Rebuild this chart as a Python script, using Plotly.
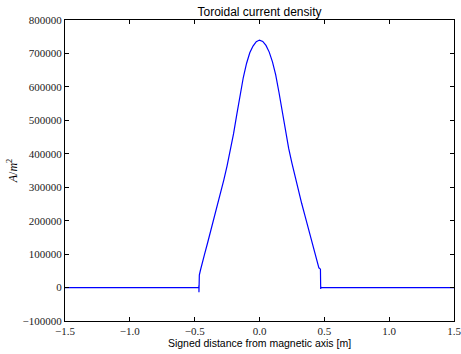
import plotly.graph_objects as go

# Signed distance from magnetic axis [m]
x_vals = [-1.5, -0.469, -0.467, -0.467, -0.466, -0.464, -0.456, -0.45, -0.425, -0.40, -0.375,
          -0.35, -0.325, -0.30, -0.275, -0.25, -0.225, -0.20, -0.175, -0.15, -0.125,
          -0.10, -0.075, -0.05, -0.025, 0.0, 0.025, 0.05, 0.075, 0.10, 0.125, 0.15,
          0.175, 0.20, 0.225, 0.25, 0.275, 0.30, 0.325, 0.35, 0.375, 0.40, 0.425,
          0.45, 0.458, 0.470, 0.472, 0.474, 0.478, 1.5]
# Toroidal current density [A/m^2]
j_vals = [0, 0, 5000, -14000, 0, 37000, 51000, 62000, 98000, 134000, 170000,
          206000, 244000, 282000, 322000, 364000, 410000, 460000, 518000, 574000, 628000,
          670000, 702000, 722000, 735000, 740000, 736000, 724000, 704000, 675000, 636000, 584000,
          528000, 468000, 416000, 372000, 330000, 290000, 252000, 216000, 180000, 144000, 108000,
          74000, 59000, 55000, -4000, 1000, 0, 0]

x_ticks = [-1.5, -1.0, -0.5, 0.0, 0.5, 1.0, 1.5]
x_tick_text = ["\u22121.5", "\u22121.0", "\u22120.5", "0.0", "0.5", "1.0", "1.5"]
y_ticks = [-100000, 0, 100000, 200000, 300000, 400000, 500000, 600000, 700000, 800000]
y_tick_text = ["\u2212100000", "0", "100000", "200000", "300000", "400000",
               "500000", "600000", "700000", "800000"]

fig = go.Figure()
fig.add_trace(go.Scatter(x=x_vals, y=j_vals, mode="lines", line_shape="linear",
                         line=dict(color="#0000ff", width=1.2), showlegend=False))

serif = "Liberation Serif"
sans = "Liberation Sans"

fig.update_layout(
    width=461, height=354,
    margin=dict(l=65, r=7, t=20, b=33),
    paper_bgcolor="white", plot_bgcolor="white",
    font=dict(family=serif, color="black"),
    title=dict(text="Toroidal current density", x=0.5, xanchor="center",
               xref="paper", y=1, yref="paper", yanchor="bottom", pad=dict(b=4),
               font=dict(family=sans, size=12, color="black")),
    xaxis=dict(range=[-1.5, 1.5], tickvals=x_ticks, ticktext=x_tick_text,
               automargin=False, ticklabeloverflow="allow",
               ticks="inside", ticklen=4, tickwidth=1, tickcolor="black",
               showline=True, linecolor="black", linewidth=1, mirror="allticks",
               showgrid=False, zeroline=False,
               tickfont=dict(family=serif, size=11, color="#222222"),
               title=dict(text="Signed distance from magnetic axis [m]", standoff=3,
                          font=dict(family=sans, size=10.5, color="black"))),
    yaxis=dict(range=[-100000, 800000], tickvals=y_ticks, ticktext=y_tick_text,
               automargin=False, ticklabeloverflow="allow",
               ticks="inside", ticklen=4, tickwidth=1, tickcolor="black",
               showline=True, linecolor="black", linewidth=1, mirror="allticks",
               showgrid=False, zeroline=False,
               tickfont=dict(family=serif, size=11, color="#222222"),
               title=dict(text="<i>A</i>/<i>m</i><sup>2</sup>", standoff=2,
                          font=dict(family=serif, size=12, color="black"))),
)

fig.write_html("out.html")
